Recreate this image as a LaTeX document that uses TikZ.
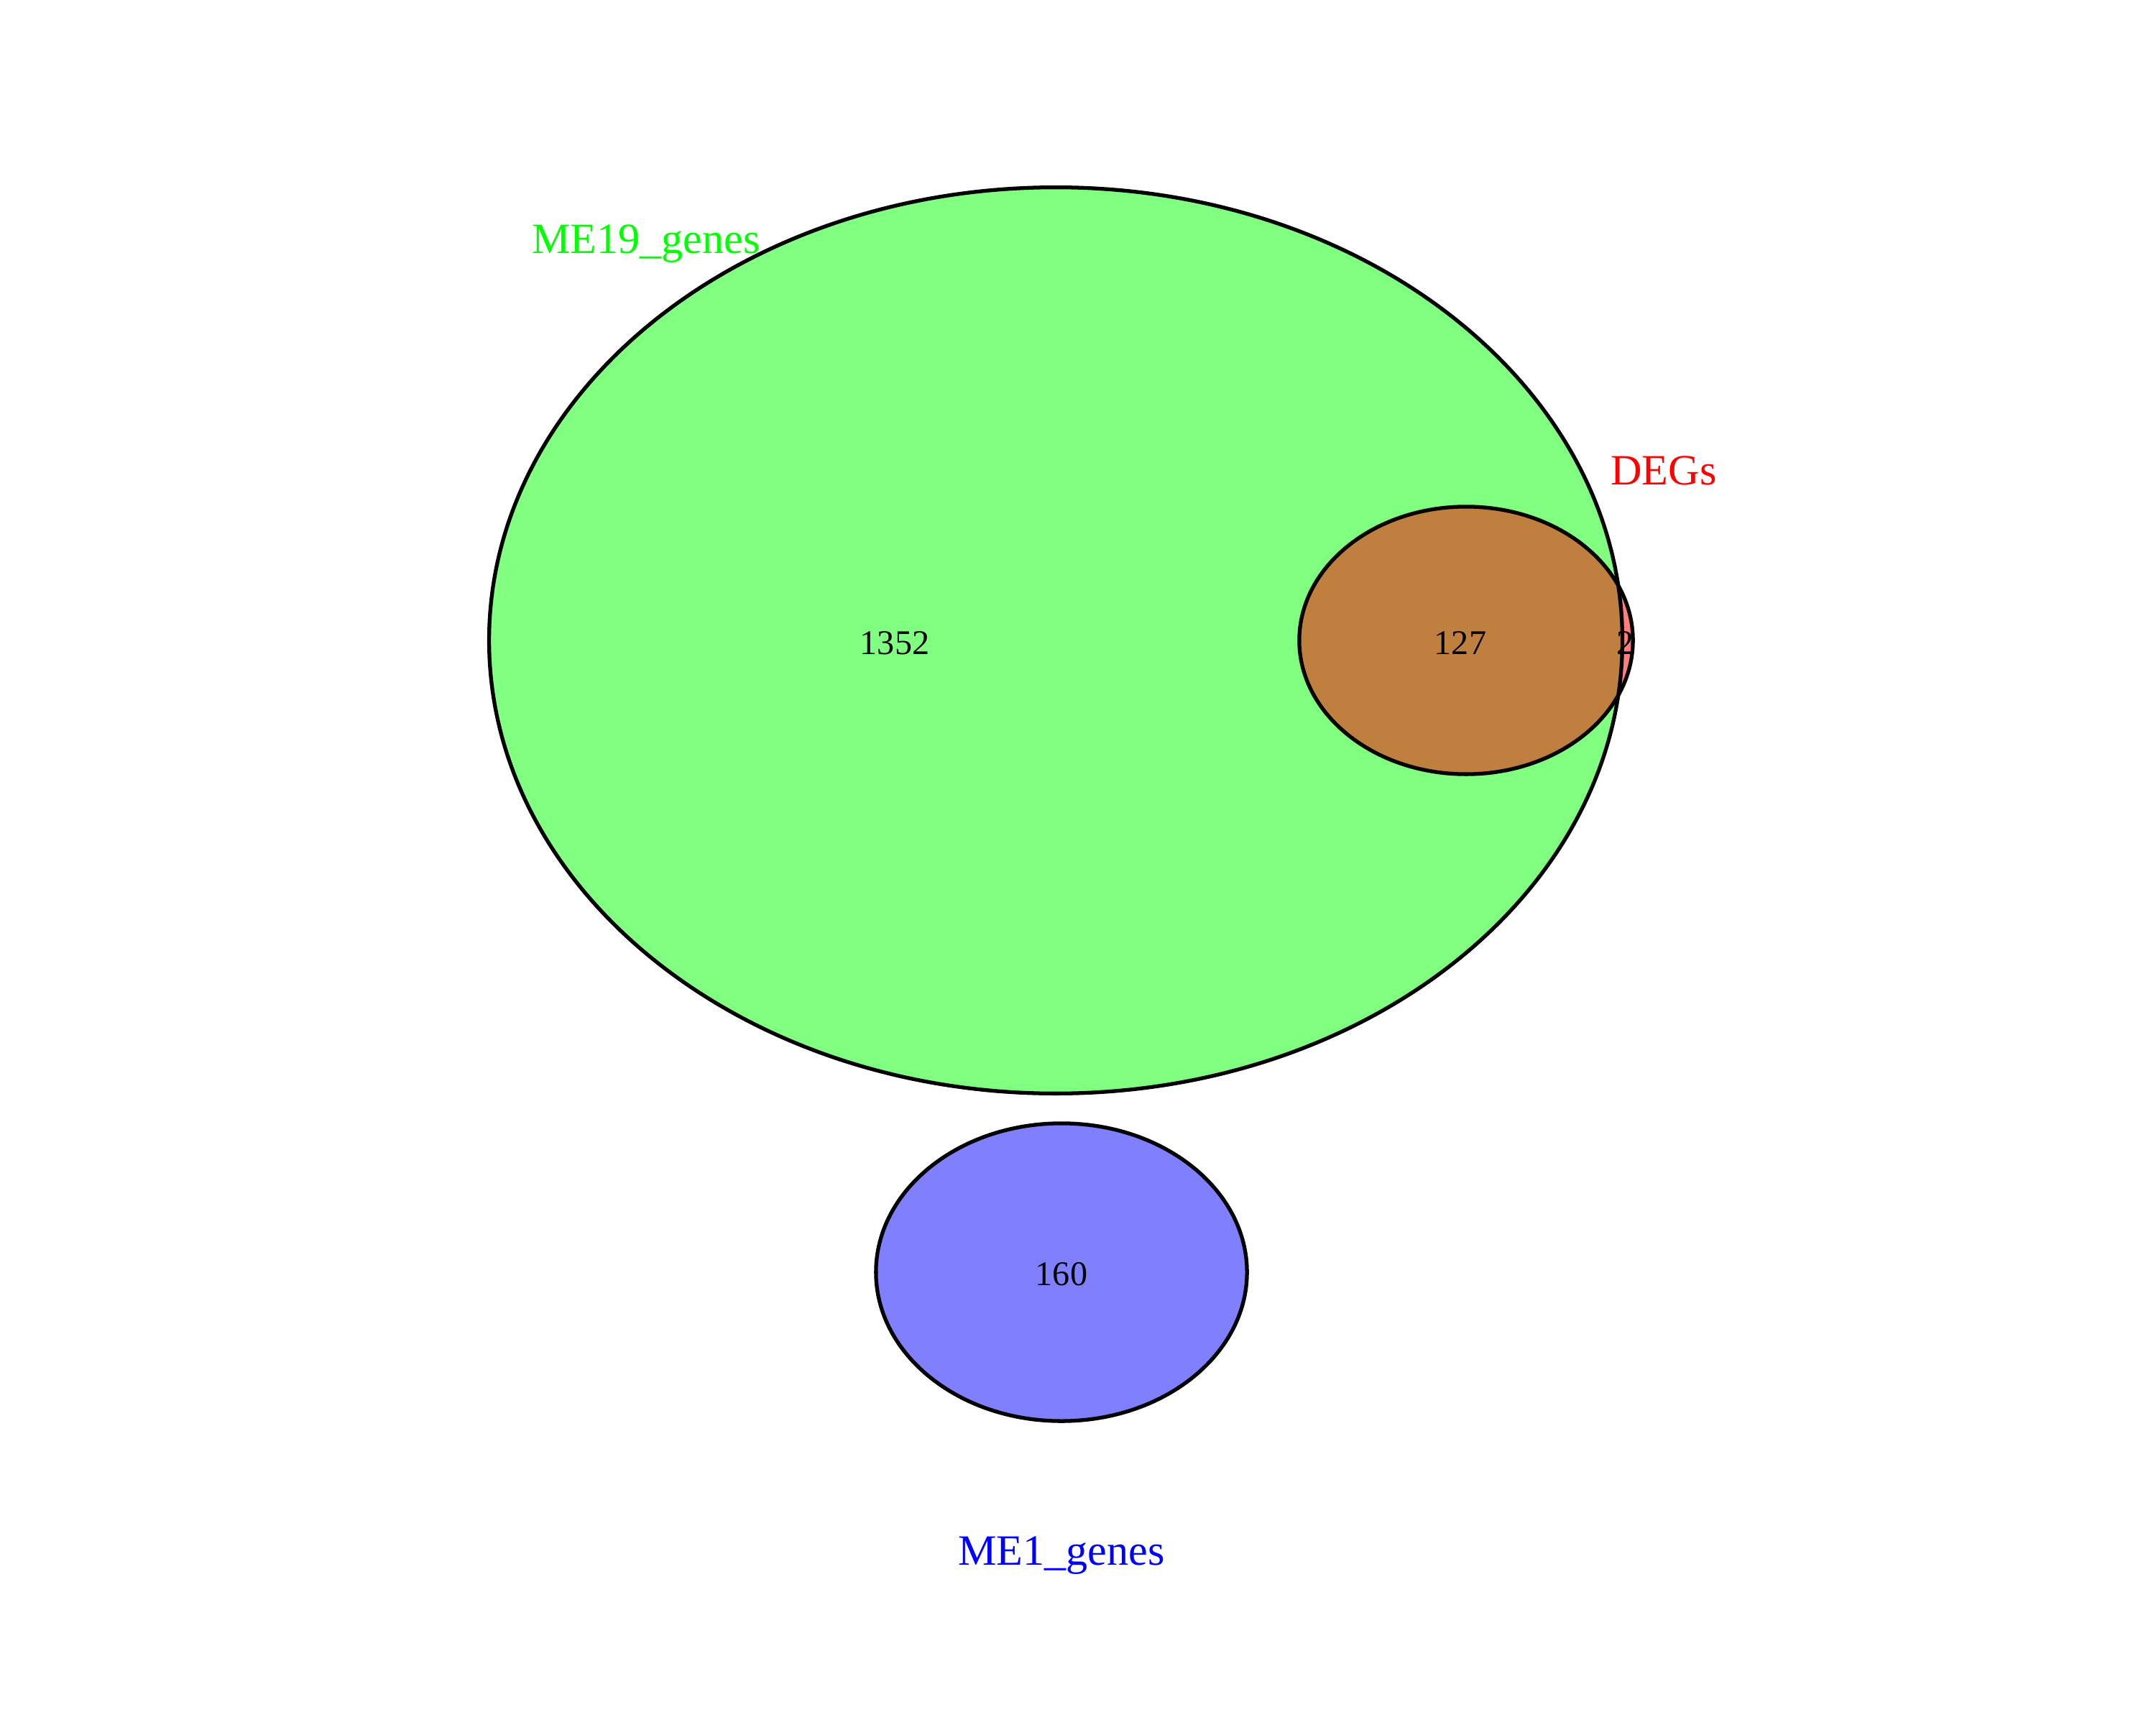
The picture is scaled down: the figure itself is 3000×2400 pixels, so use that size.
\documentclass[tikz,border=0pt]{standalone}
\usepackage{fontspec}
\setmainfont{Liberation Serif}
\usetikzlibrary{shapes.geometric}
\begin{document}
\begin{tikzpicture}[x=0.01cm,y=-0.01cm,
  setfill/.style={ellipse,inner sep=0pt,outer sep=0pt,line width=1.5pt},
  outline/.style={draw=black,line width=1.5pt},
  count/.style={font=\fontsize{13.7}{16}\selectfont,text=black,inner sep=0pt},
  setlabel/.style={font=\fontsize{17.1}{20}\selectfont,inner sep=0pt}]
\useasboundingbox[fill=white] (0,0) rectangle (3000,2400);
% sets
\node[setfill,fill=green!50,minimum width=15.76cm,minimum height=12.6cm] (me19) at (1469,891) {};
\node[setfill,fill=red,fill opacity=0.5,minimum width=4.64cm,minimum height=3.72cm] (degs) at (2040,891) {};
\node[setfill,fill=blue!50,minimum width=5.16cm,minimum height=4.14cm] (me1) at (1477,1770) {};
% outlines
\draw[outline] (me19.center) ellipse [x radius=7.88cm,y radius=6.3cm];
\draw[outline] (degs.center) ellipse [x radius=2.32cm,y radius=1.86cm];
\draw[outline] (me1.center) ellipse [x radius=2.58cm,y radius=2.07cm];
% counts
\node[count] (c1352) at (1245,895) {1352};
\node[count] (c127) at (2032,895) {127};
\node[count] (c2) at (2262,895) {2};
\node[count] (c160) at (1477,1773) {160};
% labels
\node[setlabel,text={rgb,255:red,0;green,255;blue,0}] (l19) at (899,339) {ME19\_genes};
\node[setlabel,text=red] (ldegs) at (2315,655) {DEGs};
\node[setlabel,text=blue] (l1) at (1477,2164) {ME1\_genes};
\end{tikzpicture}
\end{document}
